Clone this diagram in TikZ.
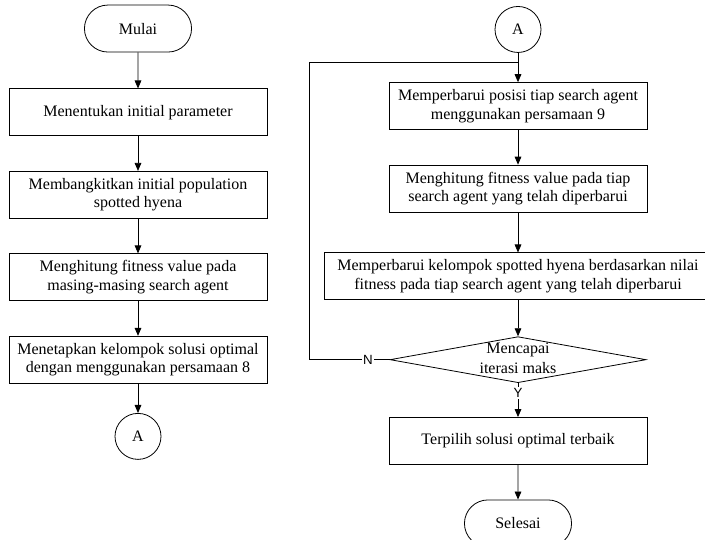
\documentclass[tikz,border=0pt]{standalone}
\usepackage{fontspec}
\setmainfont{Liberation Serif}
\newfontfamily\labelfont{Liberation Sans}
\usetikzlibrary{positioning,shapes.geometric,shapes.misc,arrows.meta}

\begin{document}
\begin{tikzpicture}[node distance=26pt, >={Triangle[length=6pt,width=5pt]}, line width=0.6pt,
  every node/.style={font=\fontsize{12}{13.8}\selectfont},
  terminal/.style={draw, rounded rectangle, minimum width=87pt, minimum height=35.25pt},
  process/.style={draw, rectangle, align=center, minimum width=193.5pt, minimum height=35.25pt, inner sep=2pt},
  decision/.style={draw, diamond, aspect=2, inner sep=0pt, minimum width=192pt, minimum height=34.5pt},
  connector/.style={draw, circle, minimum size=34.5pt, inner sep=0pt},
  yesno/.style={fill=white, inner sep=1pt, font=\labelfont\fontsize{10}{12}\selectfont}]
  \clip (0,0) rectangle (528.75pt,-404.25pt);
  % kolom kiri
  \node[terminal] (mulai) at (103.5pt,-21.4pt) {Mulai};
  \node[process] (param) [below=27pt of mulai] {Menentukan initial parameter};
  \node[process] (populasi) [below=of param] {Membangkitkan initial population\\spotted hyena};
  \node[process] (fitness) [below=of populasi] {Menghitung fitness value pada\\masing-masing search agent};
  \node[process] (solusi) [below=of fitness] {Menetapkan kelompok solusi optimal\\dengan menggunakan persamaan 8};
  \node[connector] (aL) [below=22pt of solusi] {A};
  % kolom kanan
  \node[connector] (aR) at (388.5pt,-22.1pt) {A};
  \node[process] (posisi) [below=22pt of aR] {Memperbarui posisi tiap search agent\\menggunakan persamaan 9};
  \node[process] (fitbaru) [below=of posisi] {Menghitung fitness value pada tiap\\search agent yang telah diperbarui};
  \node[process, minimum width=290pt] (kelompok) [below=30pt of fitbaru] {Memperbarui kelompok spotted hyena berdasarkan nilai\\fitness pada tiap search agent yang telah diperbarui};
  \node[decision] (iterasi) [below=27pt of kelompok] {\smash{\raisebox{-3pt}{\begin{tabular}{@{}c@{}}Mencapai\\[1.5pt]iterasi maks\end{tabular}}}};
  \node[process] (terbaik) [below=25.5pt of iterasi] {Terpilih solusi optimal terbaik};
  \node[terminal] (selesai) [below=of terbaik] {Selesai};
  \coordinate (loop) at ([yshift=-7pt]aR.south);
  \path[->]
    (mulai) edge (param)
    (param) edge (populasi)
    (populasi) edge (fitness)
    (fitness) edge (solusi)
    (solusi) edge (aL)
    (aR) edge (posisi)
    (posisi) edge (fitbaru)
    (fitbaru) edge (kelompok)
    (kelompok) edge (iterasi)
    (terbaik) edge (selesai);
  \draw (iterasi.west) -- node[yesno, pos=0.27] {N} ++(-60pt,0) |- (loop);
  \draw[->] (iterasi) -- node[yesno, pos=0.3] {Y} (terbaik);
\end{tikzpicture}
\end{document}
